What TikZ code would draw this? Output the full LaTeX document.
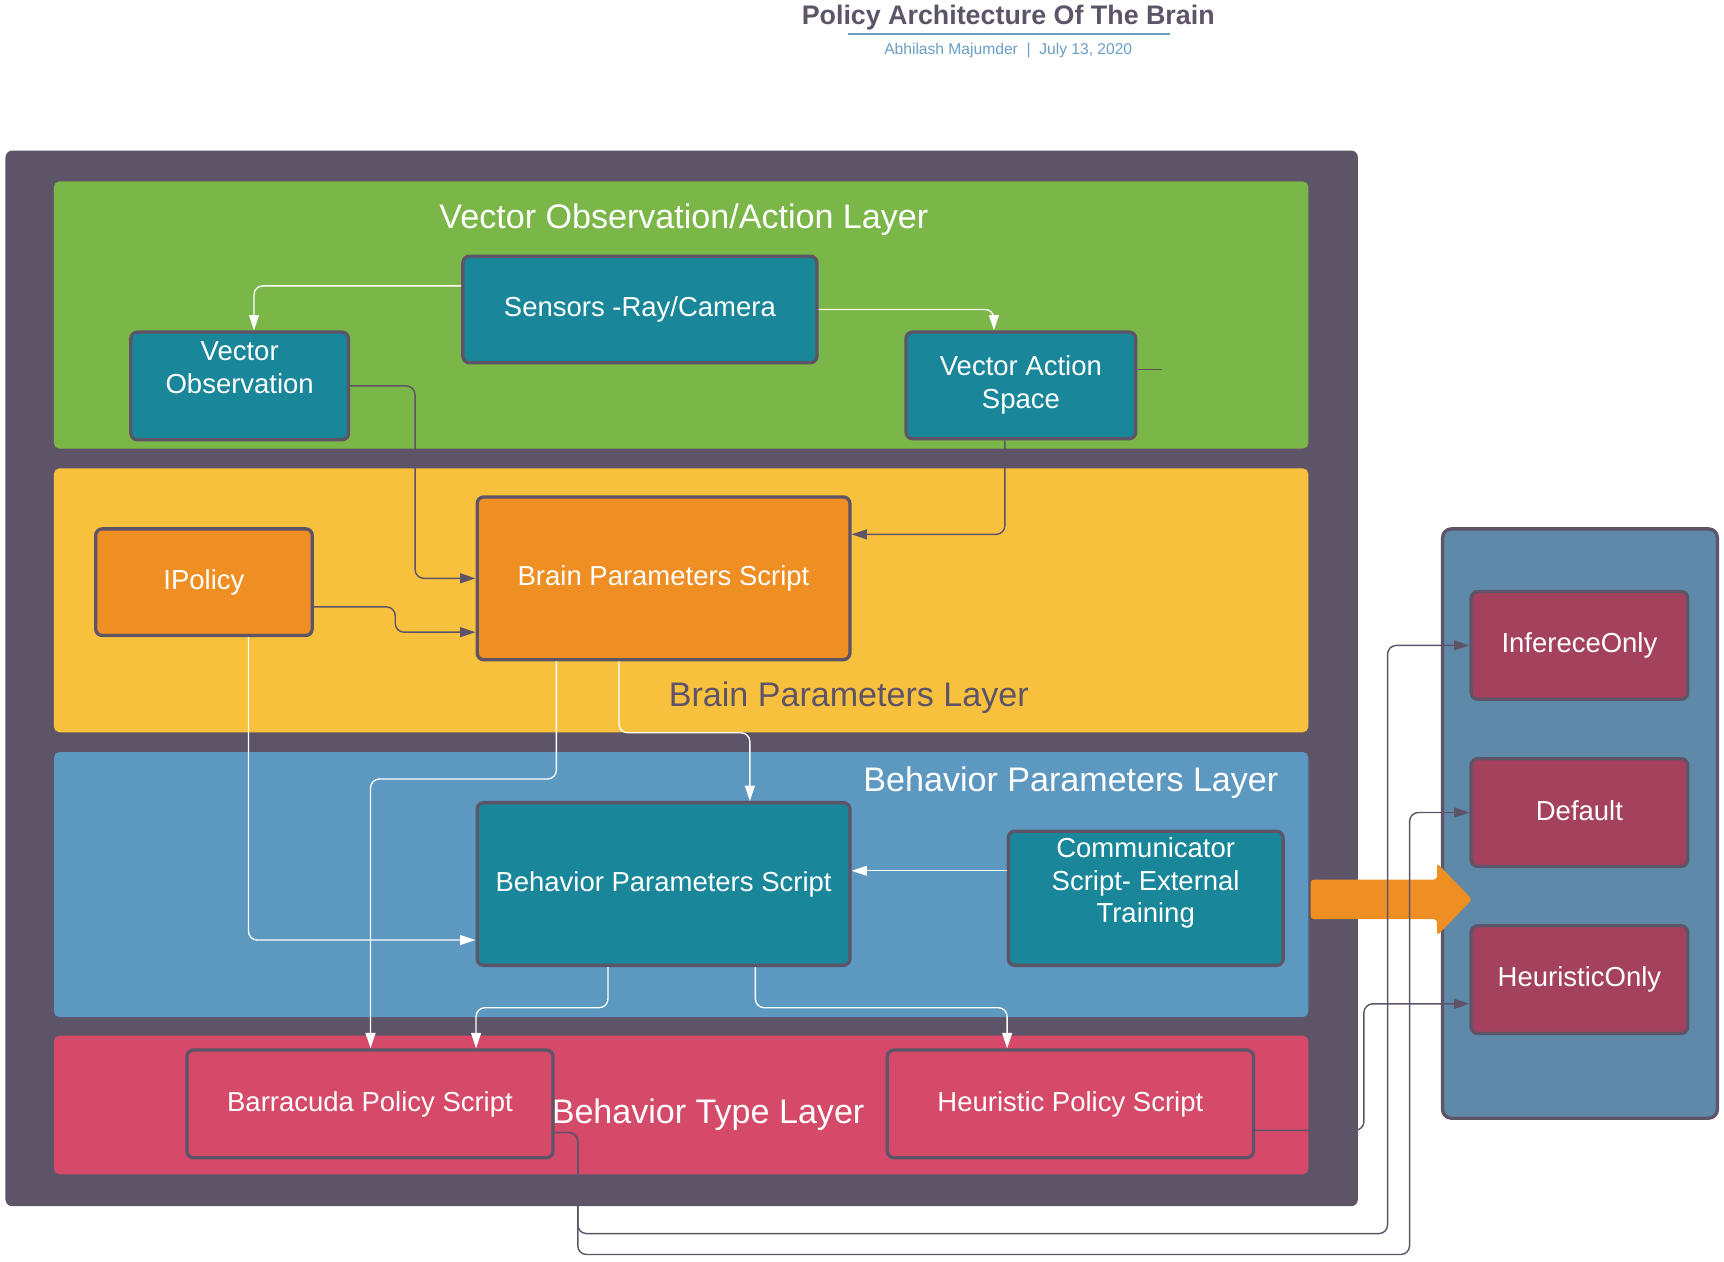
\documentclass[tikz,border=0pt]{standalone}
\usepackage{fontspec}
\setmainfont{Liberation Sans}
\usetikzlibrary{arrows.meta}

\definecolor{framegray}{HTML}{5E5468}
\definecolor{layergreen}{HTML}{7AB648}
\definecolor{layeryellow}{HTML}{F7C13E}
\definecolor{layerblue}{HTML}{5C98BF}
\definecolor{layerred}{HTML}{D44A68}
\definecolor{boxteal}{HTML}{19869A}
\definecolor{boxorange}{HTML}{EE8E23}
\definecolor{panelblue}{HTML}{5E89A8}
\definecolor{modered}{HTML}{A4425E}
\definecolor{linkblue}{HTML}{6A9EC4}

\tikzset{
  layerband/.style={fill=#1, rounded corners=5pt, minimum width=1141pt, inner sep=0pt},
  scriptbox/.style={draw=framegray, line width=3pt, fill=#1, rounded corners=6pt,
    text=white, align=center, font=\fontsize{25}{30}\selectfont, inner sep=0pt},
  layertitle/.style={text=#1, font=\fontsize{31}{36}\selectfont, inner sep=0pt},
  wconn/.style={draw=white, line width=1.2pt, rounded corners=8pt,
    -{Triangle[length=14pt,width=9pt]}},
  dconn/.style={draw=framegray, line width=1.3pt, rounded corners=8pt,
    -{Triangle[length=14pt,width=9pt]}},
}

\begin{document}
\begin{tikzpicture}[x=1pt,y=-1pt]
        \useasboundingbox (0,0) rectangle (1568,1147);

        % heading
        \node [font=\bfseries\fontsize{24.4}{28}\selectfont, text=framegray, inner sep=0pt] (title) at (917,16) {Policy Architecture Of The Brain};
        \draw [linkblue, line width=1.5pt] (771,31) -- (1064,31);
        \node [font=\fontsize{14.2}{17}\selectfont, text=linkblue, inner sep=0pt] (byline) at (917,46) {Abhilash Majumder \ |\ \ July 13, 2020};

        % frame and layers
        \node [fill=framegray, rounded corners=6pt, minimum width=1230pt, minimum height=960pt, inner sep=0pt] (frame) at (620,617) {};
        \node [layerband=layergreen, minimum height=243pt] (green) at (619.5,286.5) {};
        \node [layerband=layeryellow, minimum height=240pt] (yellow) at (619.5,546) {};
        \node [layerband=layerblue, minimum height=241pt] (blue) at (619.5,804.5) {};
        \node [layerband=layerred, minimum height=126pt] (red) at (619.5,1005) {};

        \node [layertitle=white] at (622,200) {Vector Observation/Action Layer};
        \node [layertitle=framegray] at (772,635) {Brain Parameters Layer};
        \node [layertitle=white] at (974,712) {Behavior Parameters Layer};
        \node [layertitle=white] at (644,1014) {Behavior Type Layer};

        % modes panel
        \node [draw=framegray, line width=3pt, fill=panelblue, rounded corners=8pt, minimum width=250pt, minimum height=536pt, inner sep=0pt] (panel) at (1437,749) {};

        % big arrow to the modes
        \fill [boxorange, rounded corners=3pt] (1192,800) -- (1307,800) -- (1307,785) -- (1339,818) -- (1307,851) -- (1307,836) -- (1192,836) -- cycle;

        \node [scriptbox=modered, minimum width=197pt, minimum height=98pt] (inf) at (1436.5,587) {\raisebox{3pt}{InfereceOnly}};
        \node [scriptbox=modered, minimum width=197pt, minimum height=98pt] (dflt) at (1436.5,739) {\raisebox{3pt}{Default}};
        \node [scriptbox=modered, minimum width=197pt, minimum height=98pt] (heur) at (1436.5,891) {\raisebox{3pt}{HeuristicOnly}};

        % scripts
        \node [scriptbox=boxteal, minimum width=322pt, minimum height=97pt] (sensors) at (582,281.5) {Sensors -Ray/Camera};
        \node [scriptbox=boxteal, minimum width=198pt, minimum height=98pt] (vo) at (218,351) {};
        \node [text=white, align=center, font=\fontsize{25}{30}\selectfont, inner sep=0pt] (vo-text) at (218,334) {Vector\\Observation};
        \node [scriptbox=boxteal, minimum width=209pt, minimum height=97pt] (vas) at (928.5,350.5) {Vector Action\\Space};
        \node [scriptbox=boxorange, minimum width=197pt, minimum height=97pt] (ipol) at (185.5,529.5) {IPolicy};
        \node [scriptbox=boxorange, minimum width=339pt, minimum height=148pt] (bps) at (603.5,526) {Brain Parameters Script};
        \node [scriptbox=boxteal, minimum width=339pt, minimum height=148pt] (behps) at (603.5,804) {Behavior Parameters Script};
        \node [scriptbox=boxteal, minimum width=250pt, minimum height=122pt] (comm) at (1042,817) {};
        \node [text=white, align=center, font=\fontsize{25}{30}\selectfont, inner sep=0pt] (comm-text) at (1042,803) {Communicator\\Script- External\\Training};
        \node [scriptbox=layerred, minimum width=333pt, minimum height=98pt] (brc) at (336.5,1004) {\raisebox{2pt}{Barracuda Policy Script}};
        \node [scriptbox=layerred, minimum width=333pt, minimum height=98pt] (hps) at (973.5,1004) {\raisebox{2pt}{Heuristic Policy Script}};

        % connectors
        \draw [wconn] ([yshift=21.5pt]sensors.west) -| ([xshift=13pt]vo.north);
        \draw [wconn] (sensors.east) -| ([xshift=-24.5pt]vas.north);
        \draw [framegray, line width=1.3pt] ([yshift=14.5pt]vas.east) -- ++(22,0);
        \draw [dconn] (vo.east) -- ++(59,0) |- (bps.west);
        \draw [dconn] ([xshift=-14.5pt]vas.south) |- ([yshift=40pt]bps.east);
        \draw [dconn] ([yshift=-22.5pt]ipol.east) -- ++(74,0) |- ([yshift=-49pt]bps.west);
        \draw [wconn] ([xshift=40.5pt]ipol.south) |- ([yshift=-51pt]behps.west);
        \draw [wconn] ([xshift=-40.5pt]bps.south) -- ++(0,65) -| ([xshift=78.5pt]behps.north);
        \draw [wconn] ([xshift=-97.5pt]bps.south) -- ++(0,107) -| ([xshift=0.5pt]brc.north);
        \draw [wconn, line width=0.8pt] ([yshift=25pt]comm.west) -- ([yshift=12pt]behps.east);
        \draw [wconn] ([xshift=-50.5pt]behps.south) -- ++(0,37) -| ([xshift=96.5pt]brc.north);
        \draw [wconn] ([xshift=83.5pt]behps.south) -- ++(0,37) -| ([xshift=-57.5pt]hps.north);
        \draw [dconn] ([yshift=-26pt]brc.east) -- ++(21,0) |- (1262,1122) |- (inf.west);
        \draw [dconn] ([yshift=-26pt]brc.east) -- ++(21,0) |- (1282,1141) |- (dflt.west);
        \draw [dconn] ([yshift=-24pt]hps.east) -- ++(99,0) |- ([yshift=-22pt]heur.west);

\end{tikzpicture}
\end{document}
